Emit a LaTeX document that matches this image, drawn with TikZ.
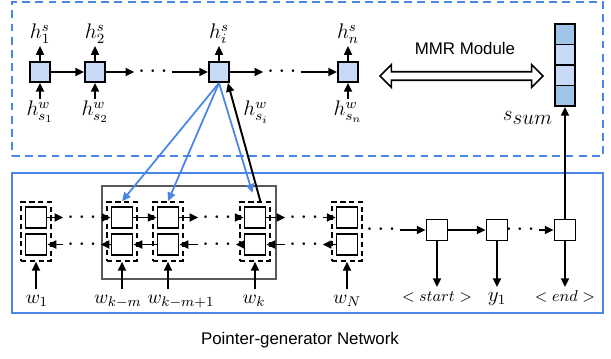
\documentclass[tikz,border=0pt]{standalone}
\usepackage{fontspec}
\newfontfamily\labelfont{Liberation Sans}
\usepackage{tikz}
\usetikzlibrary{arrows.meta,shapes.arrows,positioning}
\definecolor{cellblue}{HTML}{C9DAF8}
\definecolor{vecblue}{HTML}{9FC5E8}
\definecolor{frameblue}{HTML}{4A86E8}

\begin{document}
\begin{tikzpicture}[x=0.02cm,y=-0.02cm,
    arr/.style={-{Triangle[length=5pt,width=4.5pt]},line width=1.1pt},
    blarr/.style={-{Triangle[length=5pt,width=4.5pt]},line width=1pt,draw=frameblue,fill=frameblue},
    hcell/.style={rectangle,draw,line width=1.1pt,fill=cellblue,minimum size=0.4cm,inner sep=0},
    rcell/.style={rectangle,draw,line width=1.1pt,fill=white,minimum size=0.42cm,inner sep=0},
    pair/.style={rectangle,draw,line width=0.9pt,dash pattern=on 3pt off 2pt,minimum width=0.6cm,minimum height=1.18cm,inner sep=0},
    vcell/.style={rectangle,draw,line width=1.1pt,minimum width=0.4cm,minimum height=0.41cm,inner sep=0},
    dots/.style={inner xsep=2pt,inner ysep=0pt,font=\fontsize{15}{17}\selectfont},
    hlab/.style={inner sep=1pt,font=\fontsize{12}{14}\selectfont},
    wlab/.style={inner sep=1pt,text height=7pt,text depth=3pt,font=\fontsize{11}{13}\selectfont}]

\useasboundingbox (0,0) rectangle (611,358);

% frames
\node[rectangle,draw=frameblue,line width=0.9pt,dash pattern=on 4.5pt off 3pt,
    minimum width=11.82cm,minimum height=3.08cm] (sent) at (307.5,79) {};
\node[rectangle,draw=frameblue,line width=0.9pt,
    minimum width=11.82cm,minimum height=2.8cm] (pgn) at (307.5,243) {};
\node[rectangle,draw=black!65,line width=0.7pt,
    minimum width=3.48cm,minimum height=1.86cm] (win) at (189,232.5) {};

% sentence level rnn
\node[hcell] (hs1) at (40,72) {};
\node[hcell] (hs2) at (95,72) {};
\node[hcell] (hsi) at (219,72) {};
\node[hcell] (hsn) at (348,72) {};
\node[dots] (td1) at (153,72) {$\cdots$};
\node[dots] (td2) at (282,72) {$\cdots$};

\node[hlab,anchor=south] (o1) at (40,46) {$h^s_1$};
\node[hlab,anchor=south] (o2) at (95,46) {$h^s_2$};
\node[hlab,anchor=south] (oi) at (219,46) {$h^s_i$};
\node[hlab,anchor=south] (on) at (348,46) {$h^s_n$};

\node[hlab,anchor=north] (i1) at (40,99) {$h^w_{s_1}$};
\node[hlab,anchor=north] (i2) at (95,99) {$h^w_{s_2}$};
\node[hlab,anchor=north] (ii) at (256,99) {$h^w_{s_i}$};
\node[hlab,anchor=north] (in) at (348,99) {$h^w_{s_n}$};

\draw[arr] (hs1) -- (o1);
\draw[arr] (hs2) -- (o2);
\draw[arr] (hsi) -- (oi);
\draw[arr] (hsn) -- (on);
\draw[arr] (i1) -- (hs1);
\draw[arr] (i2) -- (hs2);
\draw[arr] (in) -- (hsn);

\draw[arr] (hs1) -- (hs2);
\draw[arr] (hs2) -- (td1);
\draw[arr] (td1) -- (hsi);
\draw[arr] (hsi) -- (td2);
\draw[arr] (td2) -- (hsn);

% summary vector
\node[vcell,fill=vecblue] (sv1) at (565,34.25) {};
\node[vcell,fill=cellblue] (sv2) at (565,54.75) {};
\node[vcell,fill=cellblue] (sv3) at (565,75.25) {};
\node[vcell,fill=vecblue] (sv4) at (565,95.75) {};
\node[font=\fontsize{11.5}{14}\selectfont] (slab) at (528,118) {$s_{\textstyle sum}$};

\node[double arrow,draw,line width=0.9pt,fill=white,inner xsep=0pt,inner ysep=0.07cm,
    minimum height=3.26cm,double arrow head extend=0.14cm] (mmr) at (461.5,76) {};
\node[font=\labelfont\fontsize{9.6}{11}\selectfont] (mmrlab) at (465,48) {MMR Module};

% word level encoder
\node[pair] (p1) at (36,231.5) {};
\node[pair] (pkm) at (122,231.5) {};
\node[pair] (pkmm) at (168,231.5) {};
\node[pair] (pk) at (255,231.5) {};
\node[pair] (pN) at (347,231.5) {};

\node[rcell] (f1) at (36,217.5) {};
\node[rcell] (b1) at (36,244.5) {};
\node[rcell] (fkm) at (122,217.5) {};
\node[rcell] (bkm) at (122,244.5) {};
\node[rcell] (fkmm) at (168,217.5) {};
\node[rcell] (bkmm) at (168,244.5) {};
\node[rcell] (fk) at (255,217.5) {};
\node[rcell] (bk) at (255,244.5) {};
\node[rcell] (fN) at (347,217.5) {};
\node[rcell] (bN) at (347,244.5) {};

\node[dots] (fd1) at (82,217.5) {$\cdots$};
\node[dots] (fd3) at (217,217.5) {$\cdots$};
\node[dots] (fd4) at (304,217.5) {$\cdots$};
\node[dots] (bd1) at (82,244.5) {$\cdots$};
\node[dots] (bd3) at (217,244.5) {$\cdots$};
\node[dots] (bd4) at (304,244.5) {$\cdots$};

\draw[arr] (f1) -- (fd1);
\draw[arr] (fd1) -- (fkm);
\draw[arr] (fkm) -- (fkmm);
\draw[arr] (fkmm) -- (fd3);
\draw[arr] (fd3) -- (fk);
\draw[arr] (fk) -- (fd4);
\draw[arr] (fd4) -- (fN);

\draw[arr] (bd1) -- (b1);
\draw[arr] (bkm) -- (bd1);
\draw[arr] (bkmm) -- (bkm);
\draw[arr] (bd3) -- (bkmm);
\draw[arr] (bk) -- (bd3);
\draw[arr] (bd4) -- (bk);
\draw[arr] (bN) -- (bd4);

\node[wlab] (w1) at (37,300) {$w_1$};
\node[wlab] (wkm) at (118,300) {$w_{k-m}$};
\node[wlab] (wkmm) at (181,300) {$w_{k-m+1}$};
\node[wlab] (wk) at (254,300) {$w_k$};
\node[wlab] (wN) at (347,300) {$w_N$};

\draw[arr] (w1.north -| p1.south) -- (p1.south);
\draw[arr] (wkm.north -| pkm.south) -- (pkm.south);
\draw[arr] (wkmm.north -| pkmm.south) -- (pkmm.south);
\draw[arr] (wk.north -| pk.south) -- (pk.south);
\draw[arr] (wN.north -| pN.south) -- (pN.south);

% attention
\draw[blarr] (hsi.south) -- (pkm.north);
\draw[blarr] (hsi.south) -- (pkmm.north);
\draw[blarr,shorten >=5pt] (hsi.south) -- (pk.north);
\draw[arr] (pk.80) -- (hsi.-51);

% decoder
\node[rcell] (ds) at (437,230) {};
\node[rcell] (dy) at (497,230) {};
\node[rcell] (de) at (565,230) {};
\node[dots] (dd1) at (381,230) {$\cdots$};
\node[dots] (dd2) at (520,230) {$\cdots$};

\draw[arr] (dd1) -- (ds);
\draw[arr] (ds) -- (dy);
\draw[arr] (dd2) -- (de);

\node[wlab,font=\fontsize{9}{11}\selectfont] (ystart) at (437,298) {$<start>$};
\node[wlab,font=\fontsize{12}{14}\selectfont] (y1) at (497,298) {$y_1$};
\node[wlab,font=\fontsize{9}{11}\selectfont] (yend) at (565,298) {$<end>$};

\draw[arr] (ds) -- (ystart);
\draw[arr] (dy) -- (y1);
\draw[arr] (de) -- (yend);
\draw[arr] (de) -- (sv4);

\node[font=\labelfont\fontsize{9.6}{11}\selectfont] (cap) at (300,340) {Pointer-generator Network};

\end{tikzpicture}
\end{document}
